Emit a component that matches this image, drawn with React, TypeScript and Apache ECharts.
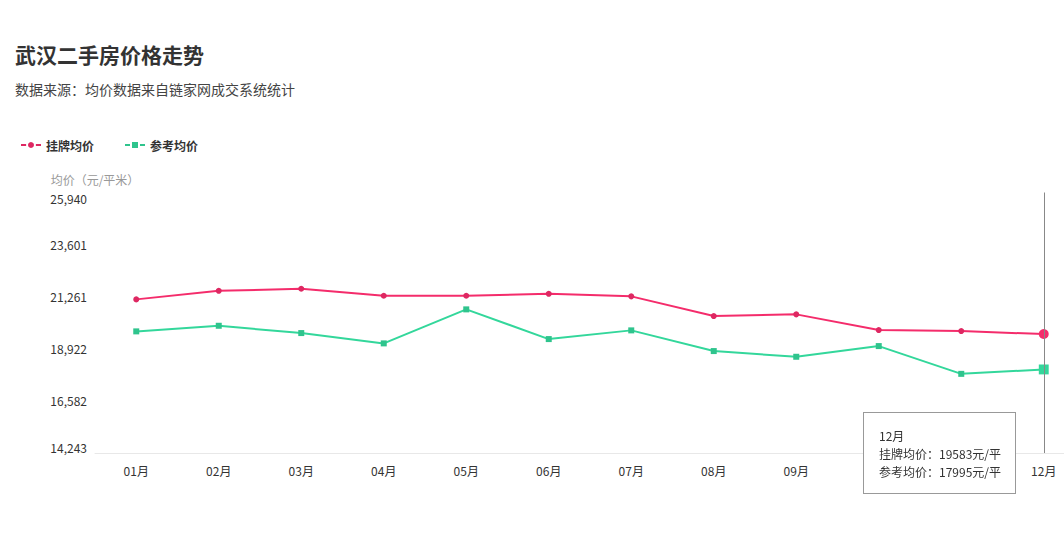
import React, { useEffect, useRef } from "react";
import * as echarts from "echarts";

const months = ["01月", "02月", "03月", "04月", "05月", "06月", "07月", "08月", "09月", "10月", "11月", "12月"];
const listingAvg = [21141, 21527, 21617, 21303, 21303, 21392, 21276, 20391, 20468, 19763, 19718, 19583];
const referenceAvg = [19704, 19956, 19628, 19165, 20692, 19358, 19749, 18820, 18564, 19044, 17797, 17995];
const yMin = 14243;
const yMax = 25940;
const yInterval = 2339.4;

const FONT = '"Noto Sans CJK SC", "Microsoft YaHei", sans-serif';
const RED = "#de2862";
const GREEN = "#2fc48d";
const ACTIVE_INDEX = 11;

export default function App() {
  const ref = useRef<HTMLDivElement>(null);
  useEffect(() => {
    document.body.style.margin = "0";
    const chart = echarts.init(ref.current!, null, { renderer: "svg" });
    const sizeFn = (_v: any, p: any) => (p.dataIndex === ACTIVE_INDEX ? 9 : 6);
    chart.setOption({
      animation: false,
      backgroundColor: "#ffffff",
      textStyle: { fontFamily: FONT },
      title: [
        {
          text: "武汉二手房价格走势",
          left: 15,
          top: 43,
          padding: 0,
          textStyle: { fontSize: 21, fontWeight: "bold", color: "#333", fontFamily: FONT },
        },
        {
          text: "数据来源：均价数据来自链家网成交系统统计",
          left: 15,
          top: 82,
          padding: 0,
          textStyle: { fontSize: 14, fontWeight: "normal", color: "#444", fontFamily: FONT },
        },
      ],
      legend: {
        left: 20,
        top: 139,
        padding: 0,
        itemWidth: 20,
        itemHeight: 10,
        itemGap: 30,
        itemStyle: { borderColor: "#fff", borderWidth: 2 },
        textStyle: { fontSize: 12, fontWeight: "bold", color: "#333", fontFamily: FONT },
        data: ["挂牌均价", "参考均价"],
      },
      tooltip: {
        trigger: "axis",
        alwaysShowContent: true,
        transitionDuration: 0,
        axisPointer: { type: "line", lineStyle: { color: "#888", width: 1, type: "solid" } },
        backgroundColor: "#fff",
        borderColor: "#999",
        borderWidth: 1,
        padding: [14, 14, 12, 15],
        textStyle: { color: "#333", fontSize: 12, fontFamily: FONT },
        extraCssText: "box-shadow:none;border-radius:0;line-height:18px;",
        position: () => [863, 412],
        formatter: (params: any[]) => {
          const name = params[0].name;
          const lines = params.map((p) => `${p.seriesName}：${p.value}元/平`);
          return [name, ...lines].join("<br/>");
        },
      },
      grid: { left: 95, width: 990, top: 192.5, bottom: 90, outerBoundsMode: "none", containLabel: false },
      xAxis: {
        type: "category",
        data: months,
        boundaryGap: true,
        axisLine: { lineStyle: { color: "#e8e8e8", width: 1 } },
        axisTick: { show: false },
        axisLabel: { color: "#333", fontSize: 12, margin: 11, fontFamily: FONT },
        splitLine: { show: false },
      },
      yAxis: {
        type: "value",
        min: yMin,
        max: yMax,
        interval: yInterval,
        name: "均价（元/平米）",
        nameLocation: "end",
        nameGap: 7,
        nameTextStyle: { color: "#999", fontSize: 12, fontFamily: FONT },
        axisLine: { show: false },
        axisTick: { show: false },
        splitLine: { show: false },
        axisLabel: {
          color: "#333",
          fontSize: 12,
          margin: 8,
          fontFamily: FONT,
          verticalAlignMinLabel: "bottom",
          verticalAlignMaxLabel: "top",
          formatter: (v: number) => Math.round(v).toLocaleString("en-US"),
        },
      },
      series: [
        {
          name: "挂牌均价",
          type: "line",
          data: listingAvg,
          symbol: "circle",
          symbolSize: sizeFn,
          lineStyle: { color: RED, width: 2 },
          itemStyle: { color: RED },
        },
        {
          name: "参考均价",
          type: "line",
          data: referenceAvg,
          symbol: "rect",
          symbolSize: sizeFn,
          lineStyle: { color: GREEN, width: 2 },
          itemStyle: { color: GREEN },
        },
      ],
    });
    chart.dispatchAction({ type: "showTip", seriesIndex: 0, dataIndex: ACTIVE_INDEX });
    return () => chart.dispose();
  }, []);
  return <div ref={ref} style={{ width: 1064, height: 543 }} />;
}
